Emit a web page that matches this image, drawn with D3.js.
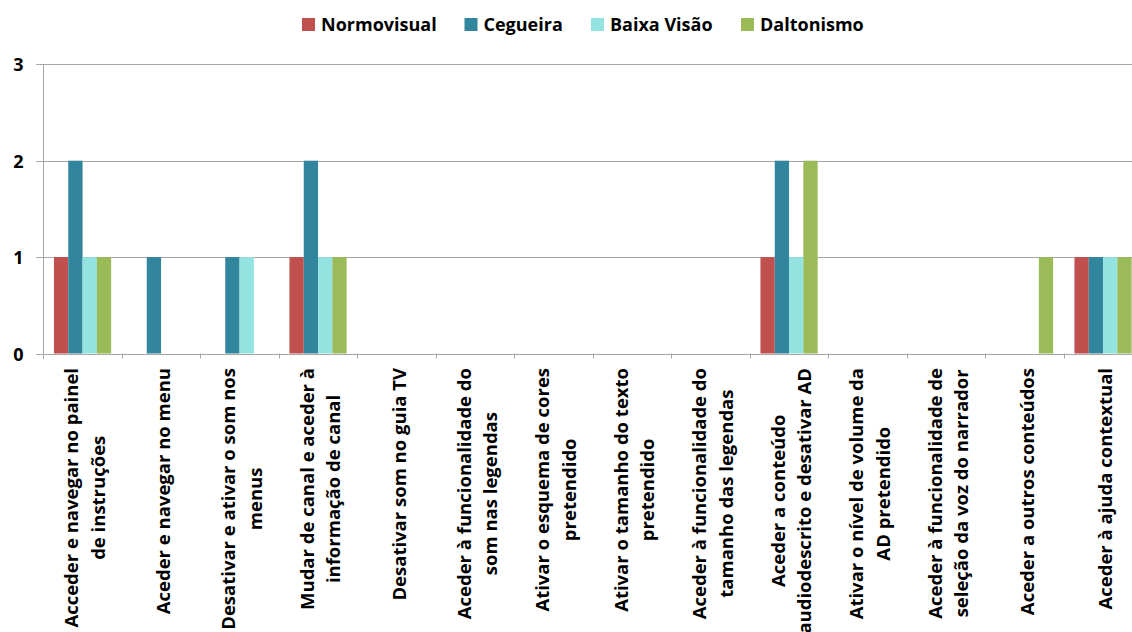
<!DOCTYPE html>
<html>
<head>
<meta charset="utf-8">
<script src="https://cdn.jsdelivr.net/npm/d3@7/dist/d3.min.js"></script>
<style>
  html, body { margin: 0; padding: 0; background: #fff; }
  svg { display: block; font-family: "Open Sans", "Noto Sans", sans-serif; font-weight: bold; }
</style>
</head>
<body>
<svg id="chart" width="1132" height="632"></svg>
<script>
// Task categories (line breaks as shown under the axis)
const categories = [
  ["Acceder e navegar no painel", "de instruções"],
  ["Aceder e navegar no menu"],
  ["Desativar e ativar o som nos", "menus"],
  ["Mudar de canal e aceder à", "informação de canal"],
  ["Desativar som no guia TV"],
  ["Aceder à funcionalidade do", "som nas legendas"],
  ["Ativar o esquema de cores", "pretendido"],
  ["Ativar o tamanho do texto", "pretendido"],
  ["Aceder à funcionalidade do", "tamanho das legendas"],
  ["Aceder a conteúdo", "audiodescrito e desativar AD"],
  ["Ativar o nível de volume da", "AD pretendido"],
  ["Aceder à funcionalidade de", "seleção da voz do narrador"],
  ["Aceder a outros conteúdos"],
  ["Aceder à ajuda contextual"]
];

const seriesNames = ["Normovisual", "Cegueira", "Baixa Visão", "Daltonismo"];
const seriesColors = ["#C0504D", "#31859C", "#93E3E0", "#9BBB59"];

const normovisual = [1, 0, 0, 1, 0, 0, 0, 0, 0, 1, 0, 0, 0, 1];
const cegueira    = [2, 1, 1, 2, 0, 0, 0, 0, 0, 2, 0, 0, 0, 1];
const baixaVisao  = [1, 0, 1, 1, 0, 0, 0, 0, 0, 1, 0, 0, 0, 1];
const daltonismo  = [1, 0, 0, 1, 0, 0, 0, 0, 0, 2, 0, 0, 1, 1];

const yTicks = [0, 1, 2, 3];

const seriesValues = [normovisual, cegueira, baixaVisao, daltonismo];

const svg = d3.select("#chart");

const plotLeft = 43.3, step = 78.5;
const plotRight = plotLeft + step * categories.length;
const plotTop = 64.3, plotBottom = 353.5;

const catIds = categories.map((c, i) => i);

const x0 = d3.scaleBand().domain(catIds).range([plotLeft, plotRight]).padding(0);
const x1 = d3.scaleBand().domain(seriesNames).range([0, x0.bandwidth()])
  .paddingInner(0).paddingOuter(0.745);
const y = d3.scaleLinear().domain([0, 3]).range([plotBottom, plotTop]);

const gridColor = "#a6a6a6";

// horizontal gridlines
svg.append("g").selectAll("line").data(yTicks).join("line")
  .attr("x1", plotLeft - 7).attr("x2", plotRight)
  .attr("y1", d => Math.round(y(d)) + 0.5).attr("y2", d => Math.round(y(d)) + 0.5)
  .attr("stroke", gridColor).attr("stroke-width", 1);

// y tick labels
svg.append("g").selectAll("text").data(yTicks).join("text")
  .attr("x", 23.5).attr("y", d => y(d))
  .attr("text-anchor", "end").attr("dominant-baseline", "central")
  .attr("font-size", 18).attr("fill", "#000")
  .text(d => d);

// bars
const barData = [];
seriesValues.forEach((vals, s) => {
  vals.forEach((v, i) => barData.push({ cat: i, s, v }));
});
svg.append("g").selectAll("rect").data(barData.filter(d => d.v > 0)).join("rect")
  .attr("x", d => x0(d.cat) + x1(seriesNames[d.s]))
  .attr("width", x1.bandwidth())
  .attr("y", d => y(d.v))
  .attr("height", d => y(0) - y(d.v))
  .attr("fill", d => seriesColors[d.s]);

// vertical axis line
svg.append("line")
  .attr("x1", Math.round(plotLeft) + 0.5).attr("x2", Math.round(plotLeft) + 0.5)
  .attr("y1", plotTop).attr("y2", plotBottom + 5)
  .attr("stroke", gridColor);

// category boundary ticks
svg.append("g").selectAll("line").data(d3.range(categories.length + 1)).join("line")
  .attr("x1", i => Math.round(plotLeft + i * step) + 0.5)
  .attr("x2", i => Math.round(plotLeft + i * step) + 0.5)
  .attr("y1", plotBottom).attr("y2", plotBottom + 5)
  .attr("stroke", gridColor);

// rotated category labels
const labelTop = 368, lineGap = 26.5, labelSize = 18.5;
const labels = svg.append("g");
categories.forEach((lines, i) => {
  const cx = x0(i) + x0.bandwidth() / 2;
  const g = labels.append("g");
  const texts = lines.map(t => g.append("text")
    .attr("font-size", labelSize).attr("fill", "#000")
    .attr("text-anchor", "middle").attr("dominant-baseline", "central")
    .text(t));
  const maxW = d3.max(texts, t => t.node().getComputedTextLength());
  const cy = labelTop + maxW / 2;
  texts.forEach((t, j) => {
    const lx = cx + 1.5 + (j - (lines.length - 1) / 2) * lineGap;
    t.attr("transform", `translate(${lx},${cy}) rotate(-90)`);
  });
});

// legend
const legendX = [302, 464.5, 591, 741];
const legend = svg.append("g");
seriesNames.forEach((name, i) => {
  legend.append("rect")
    .attr("x", legendX[i]).attr("y", 18).attr("width", 13).attr("height", 13)
    .attr("fill", seriesColors[i]);
  legend.append("text")
    .attr("x", legendX[i] + 19).attr("y", 31)
    .attr("font-size", 18).attr("fill", "#000")
    .text(name);
});
</script>
</body>
</html>
